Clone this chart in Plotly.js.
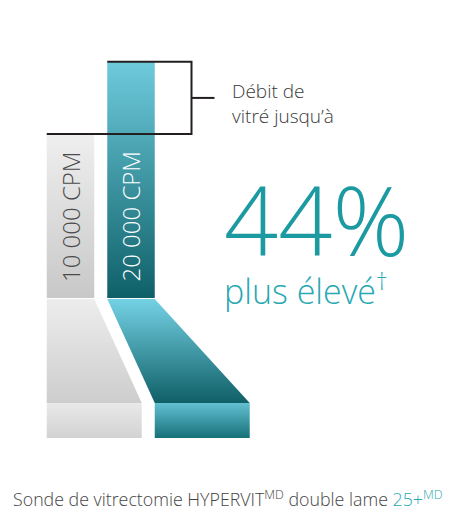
<!DOCTYPE html>
<html>
<head>
<meta charset="utf-8">
<script src="https://cdn.plot.ly/plotly-3.0.1.min.js"></script>
<style>
  html, body { margin: 0; padding: 0; background: #fff; }
  #chart { width: 450px; height: 524px; }
</style>
</head>
<body>
<div id="chart"></div>
<script>
// data
const categories = ['10 000 CPM', '20 000 CPM'];
const flow = [100, 144];            // relative vitreous flow (10 000 CPM = 100)
const gain = '44%';

// look
const FONT = '"Open Sans", "DejaVu Sans", sans-serif';
const fills = [
    { top: '#efefef', bottom: '#c8c8c8', ftop: '#ededed', fbottom: '#cdcdcd', foTop: '#e9e9e9', foBottom: '#d2d2d2', label: '#4a4a4a' },
    { top: '#6ecbdc', bottom: '#0e6068', ftop: '#74d2e5', fbottom: '#0f5f66', foTop: '#62c0d2', foBottom: '#167078', label: '#ffffff' }
];
const BAR_W = 0.785;   // bar width in category units
const GAP_Y = 0.6;     // gap between bar and funnel
const FUNNEL = 63.4;   // funnel depth
const FOOT = 21.3;     // foot block depth

const traces = [];

function poly(xs, ys, c0, c1, y0, y1) {
    return {
        x: xs.concat([xs[0]]), y: ys.concat([ys[0]]),
        type: 'scatter', mode: 'lines', fill: 'toself',
        line: { width: 0 }, hoverinfo: 'skip', showlegend: false,
        fillgradient: { type: 'vertical', start: y0, stop: y1, colorscale: [[0, c0], [1, c1]] }
    };
}

const L0 = -BAR_W / 2;
categories.forEach((c, i) => {
    const f = fills[i];
    const L = i - BAR_W / 2, R = i + BAR_W / 2;
    // the bar
    traces.push(poly([L, R, R, L], [0, 0, flow[i], flow[i]], f.bottom, f.top, 0, flow[i]));
    // funnel below it
    const FL = L0 + i * (2 * BAR_W + (1 - BAR_W));
    const FR = FL + 2 * BAR_W;
    const yt = -GAP_Y, yb = -GAP_Y - FUNNEL;
    traces.push(poly([L, R, FR, FL], [yt, yt, yb, yb], f.fbottom, f.ftop, yb, yt));
    // foot block
    const yf = yb - FOOT;
    traces.push(poly([FL, FR, FR, FL], [yb, yb, yf, yf], f.foBottom, f.foTop, yf, yb));
});

// bracket between the two bar tops
const BX = 2;
const mid = (flow[0] + flow[1]) / 2;
traces.push({
    x: [1 - BAR_W / 2, BX, BX, L0, null, BX, BX + 0.38],
    y: [flow[1], flow[1], flow[0], flow[0], null, mid, mid],
    type: 'scatter', mode: 'lines', hoverinfo: 'skip', showlegend: false,
    line: { color: '#231f20', width: 2 }
});

const annotations = categories.map((c, i) => ({
    x: i, y: 8.5, xref: 'x', yref: 'y', text: c, showarrow: false,
    textangle: -90, xanchor: 'center', yanchor: 'bottom',
    font: { family: FONT, size: 24, color: fills[i].label, weight: 300 }
}));

annotations.push(
    { x: 230 / 450, y: 1 - 76 / 524, xref: 'paper', yref: 'paper', xanchor: 'left', yanchor: 'top', align: 'left',
      text: 'Débit de<br>vitré jusqu’à', showarrow: false,
      font: { family: FONT, size: 19, color: '#3a3a3a', weight: 300 } },
    { x: 222 / 450, y: 1 - 219 / 524, xref: 'paper', yref: 'paper', xanchor: 'left', yanchor: 'middle',
      text: gain, showarrow: false,
      font: { family: FONT, size: 95, color: '#1b9aa1', weight: 300 } },
    { x: 222 / 450, y: 1 - 289 / 524, xref: 'paper', yref: 'paper', xanchor: 'left', yanchor: 'middle',
      text: 'plus élevé<sup>†</sup>', showarrow: false,
      font: { family: FONT, size: 34, color: '#28a8b3', weight: 300 } },
    { x: 227.5 / 450, y: 1 - 498 / 524, xref: 'paper', yref: 'paper', xanchor: 'center', yanchor: 'middle',
      text: 'Sonde de vitrectomie HYPERVIT<sup>MD</sup> double lame <span style="color:#2aa9b3">25+<sup>MD</sup></span>',
      showarrow: false,
      font: { family: FONT, size: 17.8, color: '#444444', weight: 300 } }
);

const layout = {
    width: 450, height: 524,
    margin: { l: 0, r: 0, t: 0, b: 0 },
    paper_bgcolor: '#ffffff', plot_bgcolor: '#ffffff',
    showlegend: false,
    xaxis: { range: [-70.5 / 60.5, (450 - 70.5) / 60.5], visible: false, fixedrange: true },
    yaxis: { range: [-(524 - 298) / 1.64, 298 / 1.64], visible: false, fixedrange: true },
    annotations: annotations
};

Plotly.newPlot('chart', traces, layout, { staticPlot: true, displayModeBar: false });
</script>
</body>
</html>
